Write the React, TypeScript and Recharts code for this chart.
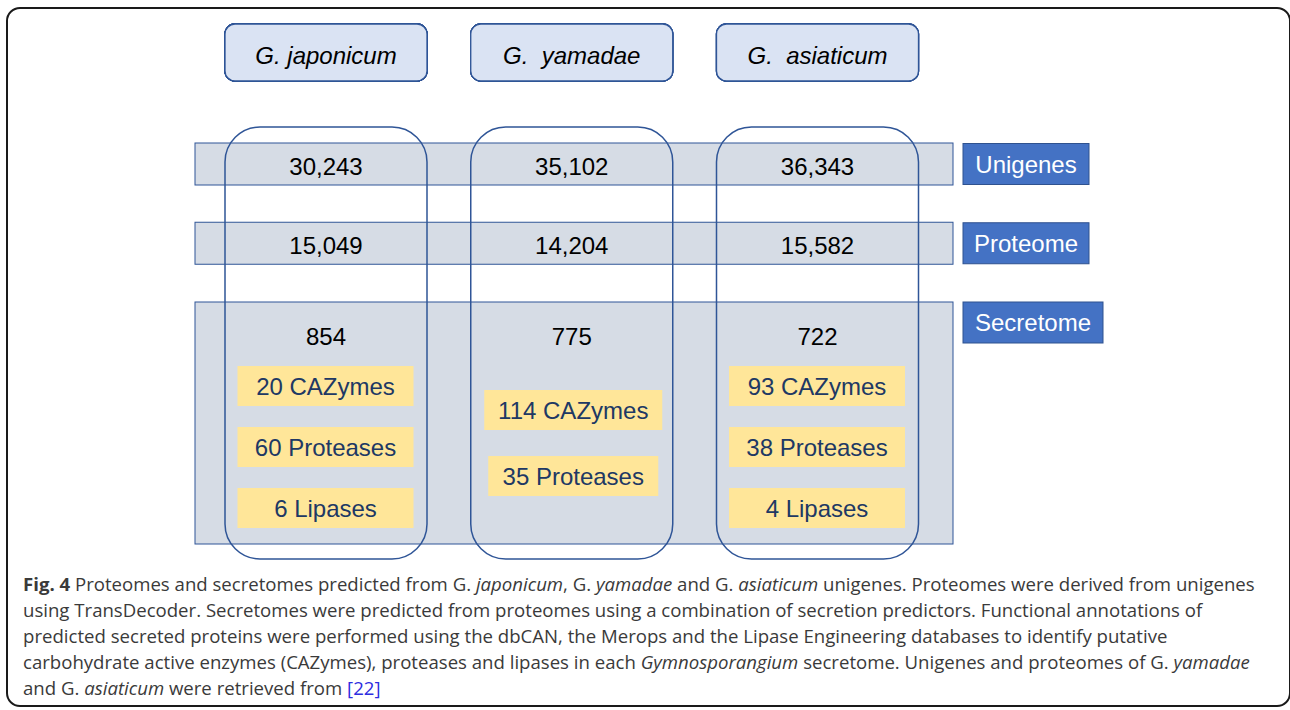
import { Scatter, ScatterChart, XAxis, YAxis } from "recharts";

const species = ["G. japonicum", "G.  yamadae", "G.  asiaticum"];
const rows = ["Unigenes", "Proteome", "Secretome"];
const unigenes = [30243, 35102, 36343];
const proteome = [15049, 14204, 15582];
const secretome = [854, 775, 722];
const cazymes = [20, 114, 93];
const proteases = [60, 35, 38];
const lipases: (number | null)[] = [6, null, 4];

const FONT = "'Liberation Sans', Arial, sans-serif";
const NAVY = "#2f5597";
const TEXT_NAVY = "#203864";

const rowValues = [unigenes, proteome, secretome];

const bandData = rows.map((row) => ({ species: species[0], row }));
const cellData = species.flatMap((s, i) =>
  rows.map((row, r) => ({ species: s, row, value: rowValues[r][i] }))
);
const enzymeData = species.map((s, i) => ({
  species: s,
  row: "Secretome",
  items: [
    { n: cazymes[i], label: "CAZymes" },
    { n: proteases[i], label: "Proteases" },
    { n: lipases[i], label: "Lipases" },
  ].filter((d) => d.n !== null),
}));
const columnData = species.map((s) => ({ species: s, row: "Unigenes" }));

const labelWidth: Record<string, number> = { Unigenes: 126, Proteome: 126, Secretome: 140 };
const numberBaseline: Record<string, number> = { Unigenes: 11, Proteome: 10.75, Secretome: 22.5 };

function HeaderTick(props: any) {
  const { x, payload } = props;
  return (
    <g>
      <rect x={x - 101} y={24} width={202} height={57} rx={10} fill="#dae3f3" stroke={NAVY} strokeWidth={1.3} />
      <text x={x} y={63.5} textAnchor="middle" fontFamily={FONT} fontSize={24} fontStyle="italic" fill="#000" style={{ whiteSpace: "pre" }}>
        {payload.value}
      </text>
    </g>
  );
}

function RowTick(props: any) {
  const { y, payload } = props;
  const w = labelWidth[payload.value] ?? 126;
  return (
    <g>
      <rect x={963} y={y - 20.5} width={w} height={41} fill="#4472c4" stroke="#2f528f" strokeWidth={1} />
      <text x={963 + w / 2} y={y + 8.5} textAnchor="middle" fontFamily={FONT} fontSize={24} fill="#fff">
        {payload.value}
      </text>
    </g>
  );
}

function BandShape(props: any) {
  const { cx, cy, payload } = props;
  const top = payload.row === "Secretome" ? cy - 20.5 : cy - 21;
  const bottom = payload.row === "Secretome" ? cy + 221.5 : cy + 21;
  return <rect x={cx - 131} y={top} width={758} height={bottom - top} fill="#d6dce5" stroke={NAVY} strokeWidth={1} />;
}

function CellShape(props: any) {
  const { cx, cy, payload } = props;
  return (
    <text x={cx} y={cy + numberBaseline[payload.row]} textAnchor="middle" fontFamily={FONT} fontSize={24} fill="#000">
      {payload.value.toLocaleString("en-US")}
    </text>
  );
}

function EnzymeShape(props: any) {
  const { cx, cy, payload } = props;
  const items = payload.items as { n: number; label: string }[];
  const three = items.length === 3;
  return (
    <g>
      {items.map((it, k) => {
        const yc = three ? cy + 63.5 + k * 61 : cy + 87.5 + k * 66;
        const w = three ? 176 : k === 0 ? 178 : 170;
        const xc = three ? cx - 0.5 : cx + 1.5;
        return (
          <g key={it.label}>
            <rect x={xc - w / 2} y={yc - 20} width={w} height={40} fill="#ffe699" />
            <text x={xc} y={yc + 8.5} textAnchor="middle" fontFamily={FONT} fontSize={24} fill={TEXT_NAVY}>
              {`${it.n} ${it.label}`}
            </text>
          </g>
        );
      })}
    </g>
  );
}

function ColumnShape(props: any) {
  const { cx, cy } = props;
  return <rect x={cx - 101} y={cy - 37} width={202} height={432} rx={35} fill="none" stroke={NAVY} strokeWidth={1.5} />;
}

const it = { fontStyle: "italic" as const };

export default function App() {
  return (
    <div style={{ fontFamily: "'Open Sans', sans-serif" }}>
      <div
        style={{
          position: "absolute",
          left: 6,
          top: 7,
          width: 1285,
          height: 700,
          boxSizing: "border-box",
          border: "2px solid #1a1a1a",
          borderRadius: 14,
        }}
      />
      <div style={{ position: "absolute", left: 0, top: 0 }}>
        <ScatterChart width={1290} height={570} margin={{ top: 64, right: 0, bottom: 247.5, left: 326 }}>
          <XAxis
            dataKey="species"
            type="category"
            scale="point"
            orientation="top"
            height={100}
            allowDuplicatedCategory={false}
            axisLine={false}
            tickLine={false}
            interval={0}
            tick={<HeaderTick />}
          />
          <YAxis
            dataKey="row"
            type="category"
            scale="point"
            orientation="right"
            width={472.5}
            reversed
            allowDuplicatedCategory={false}
            axisLine={false}
            tickLine={false}
            interval={0}
            tick={<RowTick />}
          />
          <Scatter data={bandData} shape={<BandShape />} isAnimationActive={false} />
          <Scatter data={cellData} shape={<CellShape />} isAnimationActive={false} />
          <Scatter data={enzymeData} shape={<EnzymeShape />} isAnimationActive={false} />
          <Scatter data={columnData} shape={<ColumnShape />} isAnimationActive={false} />
        </ScatterChart>
      </div>
      <div
        style={{
          position: "absolute",
          left: 23,
          top: 571,
          fontSize: 18.6,
          lineHeight: "26px",
          color: "#3a3a3a",
          whiteSpace: "nowrap",
        }}
      >
        <div>
          <b>Fig. 4</b> Proteomes and secretomes predicted from G. <span style={it}>japonicum</span>, G. <span style={it}>yamadae</span> and G.{" "}
          <span style={it}>asiaticum</span> unigenes. Proteomes were derived from unigenes
        </div>
        <div>
          using TransDecoder. Secretomes were predicted from proteomes using a combination of secretion predictors. Functional annotations of
        </div>
        <div>
          predicted secreted proteins were performed using the dbCAN, the Merops and the Lipase Engineering databases to identify putative
        </div>
        <div>
          carbohydrate active enzymes (CAZymes), proteases and lipases in each <span style={it}>Gymnosporangium</span> secretome. Unigenes and
          proteomes of G. <span style={it}>yamadae</span>
        </div>
        <div>
          and G. <span style={it}>asiaticum</span> were retrieved from <span style={{ color: "#2d2de0" }}>[22]</span>
        </div>
      </div>
    </div>
  );
}
